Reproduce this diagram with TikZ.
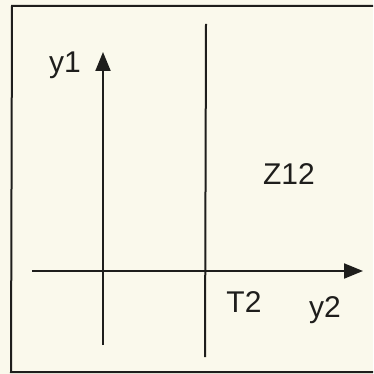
\documentclass[tikz,border=0pt]{standalone}
\usepackage{fontspec}
\setmainfont{Liberation Sans}
\usetikzlibrary{arrows.meta}
\definecolor{paper}{RGB}{250,249,236}
\definecolor{ink}{RGB}{30,30,28}
\begin{document}
\begin{tikzpicture}[x=1pt,y=-1pt,
  axisline/.style={draw=ink,line width=2pt},
  axisarrow/.style={axisline,-{Triangle[length=19pt,width=15pt]}},
  lbl/.style={text=ink,font=\fontsize{30}{33}\selectfont,inner sep=0pt,anchor=base}]
\fill[paper] (0,0) rectangle (373,374);
\useasboundingbox (0,0) rectangle (373,374);
\clip (0,0) rectangle (373,374);
% frame
\draw[ink,line width=2pt] (385,6) -- (12,6) -- (11,372) -- (385,372);
% coordinates
\coordinate (hs) at (32,271);
\coordinate (he) at (363,271);
\coordinate (vs) at (103,345);
\coordinate (ve) at (103,52);
\coordinate (ts) at (206,24);
\coordinate (te) at (205,357);
% axes
\draw[axisarrow] (hs) -- (he);
\draw[axisarrow] (vs) -- (ve);
\draw[axisline] (ts) -- (te);
% labels
\node[lbl] (y1) at (65,73) {y1};
\node[lbl] (z12) at (289,184) {Z12};
\node[lbl] (t2) at (244,312) {T2};
\node[lbl] (y2) at (325,317) {y2};
\end{tikzpicture}
\end{document}
